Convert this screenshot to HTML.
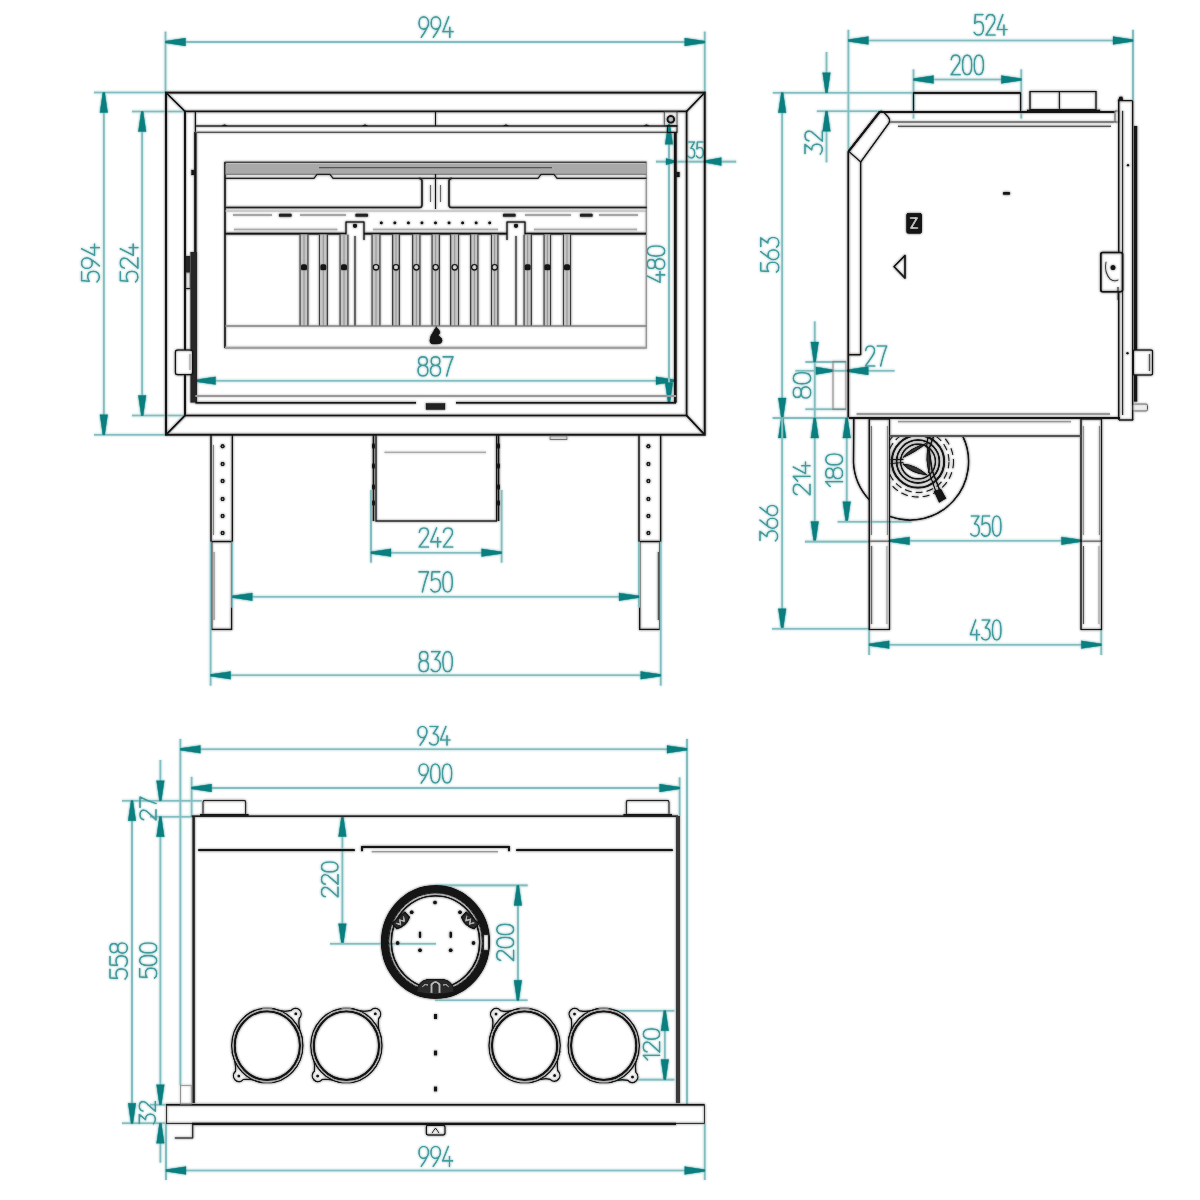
<!DOCTYPE html>
<html><head><meta charset="utf-8"><style>
html,body{margin:0;padding:0;background:#fff;}
svg{display:block;}
</style></head><body>
<svg width="1200" height="1200" viewBox="0 0 1200 1200">
<defs><filter id="soft" x="0" y="0" width="1200" height="1200" filterUnits="userSpaceOnUse" color-interpolation-filters="sRGB">
<feGaussianBlur in="SourceGraphic" stdDeviation="0.8" result="bl"/>
<feComponentTransfer in="bl" result="bl2"><feFuncR type="linear" slope="0.65" intercept="0.35"/><feFuncG type="linear" slope="0.65" intercept="0.35"/><feFuncB type="linear" slope="0.65" intercept="0.35"/></feComponentTransfer>
<feBlend in="SourceGraphic" in2="bl2" mode="darken"/></filter></defs>
<g filter="url(#soft)">
<rect width="1200" height="1200" fill="#fff"/>
<line x1="165.5" y1="31.5" x2="165.5" y2="92.5" stroke="#84bec0" stroke-width="2.1" />
<line x1="704.7" y1="31.5" x2="704.7" y2="92.5" stroke="#84bec0" stroke-width="2.1" />
<line x1="165.5" y1="42" x2="704.7" y2="42" stroke="#84bec0" stroke-width="2.1" />
<polygon points="165.50,41.00 165.50,43.00 185.50,45.90 185.50,38.10" fill="#0b7f80" stroke="#0b7f80" stroke-width="0.6" stroke-linejoin="round"/>
<polygon points="704.70,41.00 704.70,43.00 684.70,45.90 684.70,38.10" fill="#0b7f80" stroke="#0b7f80" stroke-width="0.6" stroke-linejoin="round"/>
<path d="M421.28,37.20 C423.57,34.16 425.66,30.91 427.00,27.66 C427.95,26.24 428.52,24.82 428.52,22.99 C428.52,19.34 426.43,16.90 423.76,16.90 C421.09,16.90 419.00,19.34 419.00,22.99 C419.00,26.64 421.09,29.08 423.76,29.08 C425.28,29.08 426.43,28.47 427.28,27.25 M433.37,37.20 C435.66,34.16 437.75,30.91 439.09,27.66 C440.04,26.24 440.61,24.82 440.61,22.99 C440.61,19.34 438.52,16.90 435.85,16.90 C433.18,16.90 431.09,19.34 431.09,22.99 C431.09,26.64 433.18,29.08 435.85,29.08 C437.37,29.08 438.52,28.47 439.37,27.25 M448.70,16.90 L442.89,31.72 L452.99,31.72 M449.84,27.25 L449.84,37.20" stroke="#449a9c" stroke-width="1.7" fill="none" stroke-linecap="round" stroke-linejoin="round"/>
<line x1="94" y1="92.5" x2="166" y2="92.5" stroke="#84bec0" stroke-width="2.1" />
<line x1="94" y1="434.7" x2="166" y2="434.7" stroke="#84bec0" stroke-width="2.1" />
<line x1="103.8" y1="92.5" x2="103.8" y2="434.7" stroke="#84bec0" stroke-width="2.1" />
<polygon points="102.80,92.50 104.80,92.50 107.70,112.50 99.90,112.50" fill="#0b7f80" stroke="#0b7f80" stroke-width="0.6" stroke-linejoin="round"/>
<polygon points="102.80,434.70 104.80,434.70 107.70,414.70 99.90,414.70" fill="#0b7f80" stroke="#0b7f80" stroke-width="0.6" stroke-linejoin="round"/>
<path d="M81.60,271.94 L81.60,280.63 L89.21,281.26 C88.15,279.78 87.71,278.30 87.71,276.60 C87.71,273.43 89.92,271.31 93.46,271.31 C97.00,271.31 99.30,273.64 99.30,277.03 C99.30,279.15 98.50,280.84 97.00,281.90 M99.30,265.90 C96.64,263.36 93.81,261.03 90.98,259.55 C89.74,258.49 88.50,257.85 86.91,257.85 C83.72,257.85 81.60,260.18 81.60,263.15 C81.60,266.12 83.72,268.45 86.91,268.45 C90.10,268.45 92.22,266.12 92.22,263.15 C92.22,261.46 91.69,260.18 90.63,259.23 M81.60,248.85 L94.52,255.31 L94.52,244.08 M90.63,247.58 L99.30,247.58" stroke="#449a9c" stroke-width="1.7" fill="none" stroke-linecap="round" stroke-linejoin="round"/>
<line x1="132" y1="111.5" x2="185" y2="111.5" stroke="#84bec0" stroke-width="2.1" />
<line x1="132" y1="415.5" x2="185" y2="415.5" stroke="#84bec0" stroke-width="2.1" />
<line x1="142.2" y1="111.5" x2="142.2" y2="415.5" stroke="#84bec0" stroke-width="2.1" />
<polygon points="141.20,111.50 143.20,111.50 146.10,131.50 138.30,131.50" fill="#0b7f80" stroke="#0b7f80" stroke-width="0.6" stroke-linejoin="round"/>
<polygon points="141.20,415.50 143.20,415.50 146.10,395.50 138.30,395.50" fill="#0b7f80" stroke="#0b7f80" stroke-width="0.6" stroke-linejoin="round"/>
<path d="M120.30,271.94 L120.30,280.63 L127.87,281.26 C126.81,279.78 126.37,278.30 126.37,276.60 C126.37,273.43 128.57,271.31 132.09,271.31 C135.61,271.31 137.90,273.64 137.90,277.03 C137.90,279.15 137.11,280.84 135.61,281.90 M124.26,268.02 C121.53,267.60 120.30,265.48 120.30,263.04 C120.30,260.18 121.88,258.07 124.52,258.07 C126.81,258.07 128.04,259.34 129.45,260.82 L137.90,268.23 L137.90,257.85 M120.30,248.85 L133.15,255.31 L133.15,244.08 M129.28,247.58 L137.90,247.58" stroke="#449a9c" stroke-width="1.7" fill="none" stroke-linecap="round" stroke-linejoin="round"/>
<line x1="195.5" y1="380.7" x2="676" y2="380.7" stroke="#84bec0" stroke-width="2.1" />
<polygon points="195.50,379.70 195.50,381.70 215.50,384.60 215.50,376.80" fill="#0b7f80" stroke="#0b7f80" stroke-width="0.6" stroke-linejoin="round"/>
<polygon points="676.00,379.70 676.00,381.70 656.00,384.60 656.00,376.80" fill="#0b7f80" stroke="#0b7f80" stroke-width="0.6" stroke-linejoin="round"/>
<path d="M422.94,365.44 C420.18,365.44 418.59,363.62 418.59,361.12 C418.59,358.53 420.47,356.80 422.94,356.80 C425.42,356.80 427.29,358.53 427.29,361.12 C427.29,363.62 425.71,365.44 422.94,365.44 C419.98,365.44 418.00,367.36 418.00,370.62 C418.00,373.98 420.18,376.00 422.94,376.00 C425.71,376.00 427.89,373.98 427.89,370.62 C427.89,367.36 425.91,365.44 422.94,365.44 M435.50,365.44 C432.73,365.44 431.15,363.62 431.15,361.12 C431.15,358.53 433.03,356.80 435.50,356.80 C437.97,356.80 439.85,358.53 439.85,361.12 C439.85,363.62 438.27,365.44 435.50,365.44 C432.53,365.44 430.56,367.36 430.56,370.62 C430.56,373.98 432.73,376.00 435.50,376.00 C438.27,376.00 440.44,373.98 440.44,370.62 C440.44,367.36 438.47,365.44 435.50,365.44 M443.11,356.80 L453.00,356.80 C450.63,361.98 448.45,368.70 446.67,376.00" stroke="#449a9c" stroke-width="1.7" fill="none" stroke-linecap="round" stroke-linejoin="round"/>
<line x1="669" y1="124.3" x2="669" y2="402.7" stroke="#84bec0" stroke-width="2.1" />
<polygon points="668.00,124.30 670.00,124.30 672.90,144.30 665.10,144.30" fill="#0b7f80" stroke="#0b7f80" stroke-width="0.6" stroke-linejoin="round"/>
<polygon points="668.00,402.70 670.00,402.70 672.90,382.70 665.10,382.70" fill="#0b7f80" stroke="#0b7f80" stroke-width="0.6" stroke-linejoin="round"/>
<path d="M647.30,276.10 L660.00,282.31 L660.00,271.53 M656.17,274.88 L664.70,274.88 M655.13,264.00 C655.13,266.85 653.48,268.47 651.21,268.47 C648.87,268.47 647.30,266.54 647.30,264.00 C647.30,261.46 648.87,259.53 651.21,259.53 C653.48,259.53 655.13,261.15 655.13,264.00 C655.13,267.05 656.87,269.08 659.83,269.08 C662.87,269.08 664.70,266.85 664.70,264.00 C664.70,261.15 662.87,258.92 659.83,258.92 C656.87,258.92 655.13,260.95 655.13,264.00 M647.30,251.08 C647.30,247.83 650.78,246.00 656.00,246.00 C661.22,246.00 664.70,247.83 664.70,251.08 C664.70,254.34 661.22,256.17 656.00,256.17 C650.78,256.17 647.30,254.34 647.30,251.08" stroke="#449a9c" stroke-width="1.7" fill="none" stroke-linecap="round" stroke-linejoin="round"/>
<line x1="656" y1="161.6" x2="736.3" y2="161.6" stroke="#84bec0" stroke-width="2.1" />
<polygon points="675.00,160.60 675.00,162.60 666.00,164.80 666.00,158.40" fill="#0b7f80" stroke="#0b7f80" stroke-width="0.6" stroke-linejoin="round"/>
<polygon points="704.80,160.60 704.80,162.60 721.30,165.60 721.30,157.60" fill="#0b7f80" stroke="#0b7f80" stroke-width="0.6" stroke-linejoin="round"/>
<path d="M688.54,142.00 L694.43,142.00 L690.95,148.24 C693.36,148.08 694.70,150.16 694.70,153.04 C694.70,156.08 693.09,158.00 691.21,158.00 C689.87,158.00 688.80,157.36 688.13,156.08 M702.80,142.00 L697.31,142.00 L696.91,148.88 C697.84,147.92 698.78,147.52 699.85,147.52 C701.86,147.52 703.20,149.52 703.20,152.72 C703.20,155.92 701.73,158.00 699.58,158.00 C698.24,158.00 697.17,157.28 696.50,155.92" stroke="#449a9c" stroke-width="1.7" fill="none" stroke-linecap="round" stroke-linejoin="round"/>
<rect x="166" y="92.6" width="538.70" height="342.10" rx="0" stroke="#151515" stroke-width="2.2" fill="none" />
<rect x="185" y="111.4" width="501.60" height="304.10" rx="0" stroke="#151515" stroke-width="2.0" fill="none" />
<line x1="166" y1="92.6" x2="185" y2="111.4" stroke="#151515" stroke-width="2.0" />
<line x1="704.7" y1="92.6" x2="686.6" y2="111.4" stroke="#151515" stroke-width="2.0" />
<line x1="166" y1="434.7" x2="185" y2="415.5" stroke="#151515" stroke-width="2.0" />
<line x1="704.7" y1="434.7" x2="686.6" y2="415.5" stroke="#151515" stroke-width="2.0" />
<line x1="195.3" y1="111.4" x2="195.3" y2="132" stroke="#151515" stroke-width="1.4" />
<line x1="195.4" y1="132" x2="195.4" y2="252" stroke="#151515" stroke-width="2.6" />
<rect x="190.3" y="252" width="6.9" height="150.7" fill="#262626"/>
<rect x="186" y="272.7" width="4" height="16" fill="#fff" stroke="#222" stroke-width="0.8"/>
<circle cx="188" cy="262" r="1.3" fill="#fff"/><circle cx="188" cy="268" r="1.3" fill="#fff"/>
<line x1="186" y1="288.7" x2="190.3" y2="288.7" stroke="#151515" stroke-width="1.2" />
<rect x="186" y="256" width="4.3" height="16" fill="#262626"/>
<line x1="675.3" y1="132" x2="675.3" y2="402.7" stroke="#151515" stroke-width="3.0" />
<line x1="195.3" y1="126" x2="677" y2="126" stroke="#151515" stroke-width="1.6" />
<line x1="195.3" y1="132.2" x2="677" y2="132.2" stroke="#555" stroke-width="1.5" />
<line x1="435.5" y1="111.4" x2="435.5" y2="126" stroke="#151515" stroke-width="1.3" />
<path d="M221.5,126 Q224.5,122.3 227.5,126 Z" fill="#151515"/>
<path d="M362,126 Q365,122.3 368,126 Z" fill="#151515"/>
<path d="M503,126 Q506,122.3 509,126 Z" fill="#151515"/>
<path d="M643.5,126 Q646.5,122.3 649.5,126 Z" fill="#151515"/>
<rect x="664.2" y="111.5" width="12.80" height="14.30" rx="0" stroke="#333" stroke-width="1.0" fill="none" />
<circle cx="670.8" cy="119.3" r="3.4" stroke="#151515" stroke-width="2.0" fill="#bbb"/>
<rect x="667.3" y="125.8" width="9.70" height="6.70" rx="0" stroke="#151515" stroke-width="1.2" fill="none" />
<rect x="191.5" y="170" width="3.00" height="5.00" rx="0" stroke="#151515" stroke-width="0.5" fill="#151515" />
<rect x="676.5" y="172" width="3.00" height="5.00" rx="0" stroke="#151515" stroke-width="0.5" fill="#151515" />
<rect x="175.3" y="350" width="17.40" height="24.70" rx="2.5" stroke="#151515" stroke-width="1.4" fill="#fff" />
<line x1="190" y1="354" x2="190" y2="370" stroke="#777" stroke-width="1.0" />
<line x1="195.3" y1="396" x2="676" y2="396" stroke="#999" stroke-width="1.8" />
<line x1="195.3" y1="402.8" x2="416" y2="402.8" stroke="#151515" stroke-width="2.0" />
<line x1="456" y1="402.8" x2="676" y2="402.8" stroke="#151515" stroke-width="2.0" />
<rect x="426" y="403.5" width="19.00" height="6.00" rx="0" stroke="#151515" stroke-width="0.6" fill="#222" />
<rect x="225" y="162" width="421.20" height="186.00" rx="0" stroke="#8c8c8c" stroke-width="1.4" fill="none" />
<line x1="225" y1="162" x2="225" y2="348" stroke="#151515" stroke-width="1.6" />
<rect x="225.5" y="164" width="420.5" height="10" fill="#a9a9a9"/>
<line x1="225" y1="162.5" x2="646.2" y2="162.5" stroke="#444" stroke-width="1.4" />
<line x1="319" y1="167.6" x2="552" y2="167.6" stroke="#555" stroke-width="1.3" />
<line x1="225" y1="174.3" x2="646.2" y2="174.3" stroke="#666" stroke-width="1.0" />
<path d="M225,178.3 L314,178.3 L317,174.5 L330,174.5 L333,178.3 L538,178.3 L541,174.5 L554,174.5 L557,178.3 L646,178.3" stroke="#222" stroke-width="1.4" fill="none" stroke-linejoin="round" stroke-linecap="round" />
<path d="M225.5,207.5 L419.5,207.5 Q422,207.5 422,205 L422,181 Q422,178.5 419.5,178.5" stroke="#222" stroke-width="1.8" fill="none" stroke-linejoin="round" stroke-linecap="round" />
<path d="M646,207.5 L451.5,207.5 Q449,207.5 449,205 L449,181 Q449,178.5 451.5,178.5" stroke="#222" stroke-width="1.8" fill="none" stroke-linejoin="round" stroke-linecap="round" />
<line x1="435.5" y1="174" x2="435.5" y2="209" stroke="#151515" stroke-width="1.4" />
<line x1="430.5" y1="185" x2="430.5" y2="202" stroke="#666" stroke-width="1.3" />
<line x1="440.5" y1="185" x2="440.5" y2="202" stroke="#666" stroke-width="1.3" />
<line x1="225" y1="211" x2="646.2" y2="211" stroke="#999" stroke-width="1.2" />
<line x1="233" y1="215" x2="272" y2="215" stroke="#888" stroke-width="1.6" />
<line x1="300" y1="215" x2="346" y2="215" stroke="#888" stroke-width="1.6" />
<line x1="525" y1="215" x2="571" y2="215" stroke="#888" stroke-width="1.6" />
<line x1="599" y1="215" x2="638" y2="215" stroke="#888" stroke-width="1.6" />
<rect x="279" y="213.8" width="12.50" height="3.00" rx="0.8" stroke="#222" stroke-width="0.5" fill="#222" />
<rect x="355.5" y="213.8" width="12.50" height="3.00" rx="0.8" stroke="#222" stroke-width="0.5" fill="#222" />
<rect x="503" y="213.8" width="12.50" height="3.00" rx="0.8" stroke="#222" stroke-width="0.5" fill="#222" />
<rect x="580" y="213.8" width="12.50" height="3.00" rx="0.8" stroke="#222" stroke-width="0.5" fill="#222" />
<circle cx="381.30" cy="222.8" r="1.6" fill="#151515"/>
<circle cx="394.85" cy="222.8" r="1.6" fill="#151515"/>
<circle cx="408.40" cy="222.8" r="1.6" fill="#151515"/>
<circle cx="421.95" cy="222.8" r="1.6" fill="#151515"/>
<circle cx="435.50" cy="222.8" r="1.6" fill="#151515"/>
<circle cx="449.05" cy="222.8" r="1.6" fill="#151515"/>
<circle cx="462.60" cy="222.8" r="1.6" fill="#151515"/>
<circle cx="476.15" cy="222.8" r="1.6" fill="#151515"/>
<circle cx="489.70" cy="222.8" r="1.6" fill="#151515"/>
<line x1="234" y1="229.4" x2="337.5" y2="229.4" stroke="#a9a9a9" stroke-width="2.0" />
<line x1="373" y1="229.4" x2="498" y2="229.4" stroke="#a9a9a9" stroke-width="2.0" />
<line x1="534" y1="229.4" x2="637" y2="229.4" stroke="#a9a9a9" stroke-width="2.0" />
<line x1="225" y1="233.6" x2="346" y2="233.6" stroke="#151515" stroke-width="2.4" />
<line x1="364" y1="233.6" x2="507" y2="233.6" stroke="#151515" stroke-width="2.4" />
<line x1="525" y1="233.6" x2="646" y2="233.6" stroke="#151515" stroke-width="2.4" />
<path d="M346,239.5 L346,222 L364,222 L364,239.5" stroke="#151515" stroke-width="1.5" fill="none" stroke-linejoin="round" stroke-linecap="round" />
<circle cx="355" cy="225.8" r="2.2" fill="#151515"/>
<path d="M507,239.5 L507,222 L525,222 L525,239.5" stroke="#151515" stroke-width="1.5" fill="none" stroke-linejoin="round" stroke-linecap="round" />
<circle cx="516" cy="225.8" r="2.2" fill="#151515"/>
<rect x="300" y="234.5" width="8.0" height="91.5" fill="#c4c4c4"/>
<line x1="300" y1="234.5" x2="300" y2="326" stroke="#222" stroke-width="1.1" />
<line x1="308" y1="234.5" x2="308" y2="326" stroke="#222" stroke-width="1.1" />
<line x1="304.0" y1="234.5" x2="304.0" y2="326" stroke="#888" stroke-width="0.8" />
<rect x="301.0" y="264.3" width="6" height="6" fill="#151515" rx="1.6"/>
<rect x="319.3" y="234.5" width="8.0" height="91.5" fill="#c4c4c4"/>
<line x1="319.3" y1="234.5" x2="319.3" y2="326" stroke="#222" stroke-width="1.1" />
<line x1="327.3" y1="234.5" x2="327.3" y2="326" stroke="#222" stroke-width="1.1" />
<line x1="323.3" y1="234.5" x2="323.3" y2="326" stroke="#888" stroke-width="0.8" />
<rect x="320.3" y="264.3" width="6" height="6" fill="#151515" rx="1.6"/>
<rect x="340" y="234.5" width="8.0" height="91.5" fill="#c4c4c4"/>
<line x1="340" y1="234.5" x2="340" y2="326" stroke="#222" stroke-width="1.1" />
<line x1="348" y1="234.5" x2="348" y2="326" stroke="#222" stroke-width="1.1" />
<line x1="344.0" y1="234.5" x2="344.0" y2="326" stroke="#888" stroke-width="0.8" />
<rect x="341.0" y="264.3" width="6" height="6" fill="#151515" rx="1.6"/>
<rect x="372" y="234.5" width="8.0" height="91.5" fill="#c4c4c4"/>
<line x1="372" y1="234.5" x2="372" y2="326" stroke="#222" stroke-width="1.1" />
<line x1="380" y1="234.5" x2="380" y2="326" stroke="#222" stroke-width="1.1" />
<line x1="376.0" y1="234.5" x2="376.0" y2="326" stroke="#888" stroke-width="0.8" />
<circle cx="376.0" cy="267.3" r="2.7" fill="#fff" stroke="#151515" stroke-width="1.4"/>
<rect x="392.7" y="234.5" width="6.6" height="91.5" fill="#c4c4c4"/>
<line x1="392.7" y1="234.5" x2="392.7" y2="326" stroke="#222" stroke-width="1.1" />
<line x1="399.3" y1="234.5" x2="399.3" y2="326" stroke="#222" stroke-width="1.1" />
<line x1="396.0" y1="234.5" x2="396.0" y2="326" stroke="#888" stroke-width="0.8" />
<circle cx="396.0" cy="267.3" r="2.7" fill="#fff" stroke="#151515" stroke-width="1.4"/>
<rect x="412.7" y="234.5" width="7.3" height="91.5" fill="#c4c4c4"/>
<line x1="412.7" y1="234.5" x2="412.7" y2="326" stroke="#222" stroke-width="1.1" />
<line x1="420" y1="234.5" x2="420" y2="326" stroke="#222" stroke-width="1.1" />
<line x1="416.35" y1="234.5" x2="416.35" y2="326" stroke="#888" stroke-width="0.8" />
<circle cx="416.35" cy="267.3" r="2.7" fill="#fff" stroke="#151515" stroke-width="1.4"/>
<rect x="432" y="234.5" width="7.3" height="91.5" fill="#c4c4c4"/>
<line x1="432" y1="234.5" x2="432" y2="326" stroke="#222" stroke-width="1.1" />
<line x1="439.3" y1="234.5" x2="439.3" y2="326" stroke="#222" stroke-width="1.1" />
<line x1="435.65" y1="234.5" x2="435.65" y2="326" stroke="#888" stroke-width="0.8" />
<circle cx="435.65" cy="267.3" r="2.7" fill="#fff" stroke="#151515" stroke-width="1.4"/>
<rect x="450.7" y="234.5" width="8.0" height="91.5" fill="#c4c4c4"/>
<line x1="450.7" y1="234.5" x2="450.7" y2="326" stroke="#222" stroke-width="1.1" />
<line x1="458.7" y1="234.5" x2="458.7" y2="326" stroke="#222" stroke-width="1.1" />
<line x1="454.7" y1="234.5" x2="454.7" y2="326" stroke="#888" stroke-width="0.8" />
<circle cx="454.7" cy="267.3" r="2.7" fill="#fff" stroke="#151515" stroke-width="1.4"/>
<rect x="470.7" y="234.5" width="7.3" height="91.5" fill="#c4c4c4"/>
<line x1="470.7" y1="234.5" x2="470.7" y2="326" stroke="#222" stroke-width="1.1" />
<line x1="478" y1="234.5" x2="478" y2="326" stroke="#222" stroke-width="1.1" />
<line x1="474.35" y1="234.5" x2="474.35" y2="326" stroke="#888" stroke-width="0.8" />
<circle cx="474.35" cy="267.3" r="2.7" fill="#fff" stroke="#151515" stroke-width="1.4"/>
<rect x="491.3" y="234.5" width="6.7" height="91.5" fill="#c4c4c4"/>
<line x1="491.3" y1="234.5" x2="491.3" y2="326" stroke="#222" stroke-width="1.1" />
<line x1="498" y1="234.5" x2="498" y2="326" stroke="#222" stroke-width="1.1" />
<line x1="494.65" y1="234.5" x2="494.65" y2="326" stroke="#888" stroke-width="0.8" />
<circle cx="494.65" cy="267.3" r="2.7" fill="#fff" stroke="#151515" stroke-width="1.4"/>
<rect x="524" y="234.5" width="7.3" height="91.5" fill="#c4c4c4"/>
<line x1="524" y1="234.5" x2="524" y2="326" stroke="#222" stroke-width="1.1" />
<line x1="531.3" y1="234.5" x2="531.3" y2="326" stroke="#222" stroke-width="1.1" />
<line x1="527.65" y1="234.5" x2="527.65" y2="326" stroke="#888" stroke-width="0.8" />
<rect x="524.65" y="264.3" width="6" height="6" fill="#151515" rx="1.6"/>
<rect x="544" y="234.5" width="6.7" height="91.5" fill="#c4c4c4"/>
<line x1="544" y1="234.5" x2="544" y2="326" stroke="#222" stroke-width="1.1" />
<line x1="550.7" y1="234.5" x2="550.7" y2="326" stroke="#222" stroke-width="1.1" />
<line x1="547.35" y1="234.5" x2="547.35" y2="326" stroke="#888" stroke-width="0.8" />
<rect x="544.35" y="264.3" width="6" height="6" fill="#151515" rx="1.6"/>
<rect x="563.3" y="234.5" width="7.4" height="91.5" fill="#c4c4c4"/>
<line x1="563.3" y1="234.5" x2="563.3" y2="326" stroke="#222" stroke-width="1.1" />
<line x1="570.7" y1="234.5" x2="570.7" y2="326" stroke="#222" stroke-width="1.1" />
<line x1="567.0" y1="234.5" x2="567.0" y2="326" stroke="#888" stroke-width="0.8" />
<rect x="564.0" y="264.3" width="6" height="6" fill="#151515" rx="1.6"/>
<line x1="355" y1="236" x2="355" y2="326" stroke="#151515" stroke-width="1.3" />
<line x1="516" y1="236" x2="516" y2="326" stroke="#151515" stroke-width="1.3" />
<line x1="225" y1="326" x2="646.2" y2="326" stroke="#777" stroke-width="1.3" />
<line x1="225" y1="347.6" x2="646.2" y2="347.6" stroke="#a0a0a0" stroke-width="2.2" />
<path d="M436.2,327 Q439.5,329.5 440,332.5 Q438.5,334.8 438.8,336 Q442.2,337.6 442.2,340.8 Q441.6,344 437.5,344 L432.5,344 Q429.6,343.6 429.8,340.2 Q430.4,335.2 433.6,331.2 Q434.8,328.6 436.2,327 Z" stroke="#151515" stroke-width="0.8" fill="#151515" stroke-linejoin="round" stroke-linecap="round" />
<rect x="211" y="435" width="21.30" height="106.60" rx="0" stroke="#151515" stroke-width="1.6" fill="#fff" />
<circle cx="222.6" cy="446.3" r="2.2" fill="#1a1a1a"/><circle cx="222.6" cy="446.3" r="0.6" fill="#fff"/>
<circle cx="222.6" cy="464" r="2.2" fill="#1a1a1a"/><circle cx="222.6" cy="464" r="0.6" fill="#fff"/>
<circle cx="222.6" cy="481" r="2.2" fill="#1a1a1a"/><circle cx="222.6" cy="481" r="0.6" fill="#fff"/>
<circle cx="222.6" cy="499" r="2.2" fill="#1a1a1a"/><circle cx="222.6" cy="499" r="0.6" fill="#fff"/>
<circle cx="222.6" cy="516" r="2.2" fill="#1a1a1a"/><circle cx="222.6" cy="516" r="0.6" fill="#fff"/>
<circle cx="222.6" cy="533" r="2.2" fill="#1a1a1a"/><circle cx="222.6" cy="533" r="0.6" fill="#fff"/>
<rect x="211.7" y="541.6" width="19.90" height="87.80" rx="0" stroke="#151515" stroke-width="1.6" fill="#fff" />
<rect x="639" y="435" width="21.70" height="106.60" rx="0" stroke="#151515" stroke-width="1.6" fill="#fff" />
<circle cx="648.4" cy="446.3" r="2.2" fill="#1a1a1a"/><circle cx="648.4" cy="446.3" r="0.6" fill="#fff"/>
<circle cx="648.4" cy="464" r="2.2" fill="#1a1a1a"/><circle cx="648.4" cy="464" r="0.6" fill="#fff"/>
<circle cx="648.4" cy="481" r="2.2" fill="#1a1a1a"/><circle cx="648.4" cy="481" r="0.6" fill="#fff"/>
<circle cx="648.4" cy="499" r="2.2" fill="#1a1a1a"/><circle cx="648.4" cy="499" r="0.6" fill="#fff"/>
<circle cx="648.4" cy="516" r="2.2" fill="#1a1a1a"/><circle cx="648.4" cy="516" r="0.6" fill="#fff"/>
<circle cx="648.4" cy="533" r="2.2" fill="#1a1a1a"/><circle cx="648.4" cy="533" r="0.6" fill="#fff"/>
<rect x="639.7" y="541.6" width="20.30" height="87.80" rx="0" stroke="#151515" stroke-width="1.6" fill="#fff" />
<line x1="213.6" y1="445" x2="213.6" y2="535" stroke="#777" stroke-width="1.0" />
<line x1="214" y1="552" x2="214" y2="620" stroke="#777" stroke-width="1.2" />
<line x1="658.3" y1="552" x2="658.3" y2="620" stroke="#555" stroke-width="1.4" />
<rect x="376" y="435" width="120.50" height="86.00" rx="0" stroke="#151515" stroke-width="1.5" fill="#fff" />
<line x1="384.4" y1="452.4" x2="486" y2="452.4" stroke="#aaa" stroke-width="1.6" />
<line x1="373.5" y1="435" x2="373.5" y2="521" stroke="#151515" stroke-width="2.0" />
<ellipse cx="373.5" cy="446" rx="1.6" ry="3" fill="#151515"/>
<ellipse cx="373.5" cy="466" rx="1.6" ry="3" fill="#151515"/>
<ellipse cx="373.5" cy="487" rx="1.6" ry="3" fill="#151515"/>
<ellipse cx="373.5" cy="503" rx="1.6" ry="3" fill="#151515"/>
<line x1="498.5" y1="435" x2="498.5" y2="521" stroke="#151515" stroke-width="2.0" />
<ellipse cx="498.5" cy="446" rx="1.6" ry="3" fill="#151515"/>
<ellipse cx="498.5" cy="466" rx="1.6" ry="3" fill="#151515"/>
<ellipse cx="498.5" cy="487" rx="1.6" ry="3" fill="#151515"/>
<ellipse cx="498.5" cy="503" rx="1.6" ry="3" fill="#151515"/>
<rect x="550" y="436" width="17.00" height="3.50" rx="0" stroke="#555" stroke-width="0.8" fill="#ddd" />
<line x1="371" y1="490" x2="371" y2="562.7" stroke="#84bec0" stroke-width="2.1" />
<line x1="501.6" y1="490" x2="501.6" y2="562.7" stroke="#84bec0" stroke-width="2.1" />
<line x1="371" y1="552.7" x2="501.6" y2="552.7" stroke="#84bec0" stroke-width="2.1" />
<polygon points="371.00,551.70 371.00,553.70 391.00,556.60 391.00,548.80" fill="#0b7f80" stroke="#0b7f80" stroke-width="0.6" stroke-linejoin="round"/>
<polygon points="501.60,551.70 501.60,553.70 481.60,556.60 481.60,548.80" fill="#0b7f80" stroke="#0b7f80" stroke-width="0.6" stroke-linejoin="round"/>
<path d="M419.38,532.27 C419.76,529.33 421.67,528.00 423.86,528.00 C426.43,528.00 428.33,529.71 428.33,532.56 C428.33,535.03 427.19,536.36 425.85,537.88 L419.19,547.00 L428.52,547.00 M436.61,528.00 L430.80,541.87 L440.90,541.87 M437.75,537.69 L437.75,547.00 M443.56,532.27 C443.94,529.33 445.85,528.00 448.04,528.00 C450.61,528.00 452.51,529.71 452.51,532.56 C452.51,535.03 451.37,536.36 450.03,537.88 L443.37,547.00 L452.70,547.00" stroke="#449a9c" stroke-width="1.7" fill="none" stroke-linecap="round" stroke-linejoin="round"/>
<line x1="232.3" y1="541.6" x2="232.3" y2="607.7" stroke="#84bec0" stroke-width="2.1" />
<line x1="639" y1="541.6" x2="639" y2="607.7" stroke="#84bec0" stroke-width="2.1" />
<line x1="232.3" y1="596.8" x2="639" y2="596.8" stroke="#84bec0" stroke-width="2.1" />
<polygon points="232.30,595.80 232.30,597.80 252.30,600.70 252.30,592.90" fill="#0b7f80" stroke="#0b7f80" stroke-width="0.6" stroke-linejoin="round"/>
<polygon points="639.00,595.80 639.00,597.80 619.00,600.70 619.00,592.90" fill="#0b7f80" stroke="#0b7f80" stroke-width="0.6" stroke-linejoin="round"/>
<path d="M419.00,571.80 L428.41,571.80 C426.15,577.25 424.08,584.32 422.39,592.00 M439.79,571.80 L432.08,571.80 L431.51,580.49 C432.83,579.27 434.14,578.77 435.65,578.77 C438.47,578.77 440.35,581.29 440.35,585.33 C440.35,589.37 438.28,592.00 435.27,592.00 C433.39,592.00 431.89,591.09 430.95,589.37 M447.60,571.80 C450.61,571.80 452.30,575.84 452.30,581.90 C452.30,587.96 450.61,592.00 447.60,592.00 C444.59,592.00 442.89,587.96 442.89,581.90 C442.89,575.84 444.59,571.80 447.60,571.80" stroke="#449a9c" stroke-width="1.7" fill="none" stroke-linecap="round" stroke-linejoin="round"/>
<line x1="210.6" y1="541.6" x2="210.6" y2="685.7" stroke="#84bec0" stroke-width="2.1" />
<line x1="660.7" y1="541.6" x2="660.7" y2="685.7" stroke="#84bec0" stroke-width="2.1" />
<line x1="210.6" y1="675.3" x2="660.7" y2="675.3" stroke="#84bec0" stroke-width="2.1" />
<polygon points="210.60,674.30 210.60,676.30 230.60,679.20 230.60,671.40" fill="#0b7f80" stroke="#0b7f80" stroke-width="0.6" stroke-linejoin="round"/>
<polygon points="660.70,674.30 660.70,676.30 640.70,679.20 640.70,671.40" fill="#0b7f80" stroke="#0b7f80" stroke-width="0.6" stroke-linejoin="round"/>
<path d="M423.70,660.70 C421.07,660.70 419.56,658.80 419.56,656.20 C419.56,653.50 421.35,651.70 423.70,651.70 C426.06,651.70 427.84,653.50 427.84,656.20 C427.84,658.80 426.34,660.70 423.70,660.70 C420.88,660.70 419.00,662.70 419.00,666.10 C419.00,669.60 421.07,671.70 423.70,671.70 C426.34,671.70 428.41,669.60 428.41,666.10 C428.41,662.70 426.53,660.70 423.70,660.70 M431.70,651.70 L439.98,651.70 L435.09,659.50 C438.47,659.30 440.35,661.90 440.35,665.50 C440.35,669.30 438.10,671.70 435.46,671.70 C433.58,671.70 432.08,670.90 431.13,669.30 M447.60,651.70 C450.61,651.70 452.30,655.70 452.30,661.70 C452.30,667.70 450.61,671.70 447.60,671.70 C444.59,671.70 442.89,667.70 442.89,661.70 C442.89,655.70 444.59,651.70 447.60,651.70" stroke="#449a9c" stroke-width="1.7" fill="none" stroke-linecap="round" stroke-linejoin="round"/>
<line x1="848.4" y1="29.7" x2="848.4" y2="152" stroke="#84bec0" stroke-width="2.1" />
<line x1="1133" y1="29.7" x2="1133" y2="100.7" stroke="#84bec0" stroke-width="2.1" />
<line x1="848.4" y1="40.5" x2="1133" y2="40.5" stroke="#84bec0" stroke-width="2.1" />
<polygon points="848.40,39.50 848.40,41.50 868.40,44.40 868.40,36.60" fill="#0b7f80" stroke="#0b7f80" stroke-width="0.6" stroke-linejoin="round"/>
<polygon points="1133.00,39.50 1133.00,41.50 1113.00,44.40 1113.00,36.60" fill="#0b7f80" stroke="#0b7f80" stroke-width="0.6" stroke-linejoin="round"/>
<path d="M982.83,14.60 L975.30,14.60 L974.75,23.37 C976.04,22.15 977.32,21.64 978.79,21.64 C981.54,21.64 983.38,24.19 983.38,28.27 C983.38,32.35 981.36,35.00 978.42,35.00 C976.59,35.00 975.12,34.08 974.20,32.35 M986.23,19.19 C986.59,16.03 988.43,14.60 990.54,14.60 C993.02,14.60 994.86,16.44 994.86,19.50 C994.86,22.15 993.76,23.58 992.47,25.21 L986.04,35.00 L995.04,35.00 M1002.84,14.60 L997.24,29.49 L1006.98,29.49 M1003.95,25.00 L1003.95,35.00" stroke="#449a9c" stroke-width="1.7" fill="none" stroke-linecap="round" stroke-linejoin="round"/>
<line x1="913.5" y1="69.3" x2="913.5" y2="118.7" stroke="#84bec0" stroke-width="2.1" />
<line x1="1021.3" y1="69.3" x2="1021.3" y2="118.7" stroke="#84bec0" stroke-width="2.1" />
<line x1="913.5" y1="79.5" x2="1021.3" y2="79.5" stroke="#84bec0" stroke-width="2.1" />
<polygon points="913.50,78.50 913.50,80.50 933.50,83.40 933.50,75.60" fill="#0b7f80" stroke="#0b7f80" stroke-width="0.6" stroke-linejoin="round"/>
<polygon points="1021.30,78.50 1021.30,80.50 1001.30,83.40 1001.30,75.60" fill="#0b7f80" stroke="#0b7f80" stroke-width="0.6" stroke-linejoin="round"/>
<path d="M951.27,59.59 C951.63,56.56 953.47,55.20 955.58,55.20 C958.06,55.20 959.90,56.96 959.90,59.88 C959.90,62.42 958.80,63.78 957.51,65.34 L951.08,74.70 L960.08,74.70 M967.15,55.20 C970.09,55.20 971.74,59.10 971.74,64.95 C971.74,70.80 970.09,74.70 967.15,74.70 C964.21,74.70 962.56,70.80 962.56,64.95 C962.56,59.10 964.21,55.20 967.15,55.20 M978.81,55.20 C981.75,55.20 983.40,59.10 983.40,64.95 C983.40,70.80 981.75,74.70 978.81,74.70 C975.87,74.70 974.22,70.80 974.22,64.95 C974.22,59.10 975.87,55.20 978.81,55.20" stroke="#449a9c" stroke-width="1.7" fill="none" stroke-linecap="round" stroke-linejoin="round"/>
<line x1="772.7" y1="92.7" x2="914" y2="92.7" stroke="#84bec0" stroke-width="2.1" />
<line x1="782.2" y1="92.7" x2="782.2" y2="418" stroke="#84bec0" stroke-width="2.1" />
<polygon points="781.20,92.70 783.20,92.70 786.10,112.70 778.30,112.70" fill="#0b7f80" stroke="#0b7f80" stroke-width="0.6" stroke-linejoin="round"/>
<polygon points="781.20,418.00 783.20,418.00 786.10,398.00 778.30,398.00" fill="#0b7f80" stroke="#0b7f80" stroke-width="0.6" stroke-linejoin="round"/>
<path d="M760.80,262.84 L760.80,270.83 L768.54,271.42 C767.46,270.05 767.01,268.69 767.01,267.13 C767.01,264.20 769.26,262.25 772.86,262.25 C776.46,262.25 778.80,264.40 778.80,267.52 C778.80,269.47 777.99,271.03 776.46,272.00 M760.80,251.63 L769.26,258.06 C770.52,259.04 771.78,259.62 773.40,259.62 C776.64,259.62 778.80,257.48 778.80,254.75 C778.80,252.02 776.64,249.88 773.40,249.88 C770.16,249.88 768.00,252.02 768.00,254.75 C768.00,256.31 768.54,257.48 769.62,258.36 M760.80,246.47 L760.80,237.89 L767.82,242.96 C767.64,239.45 769.98,237.50 773.22,237.50 C776.64,237.50 778.80,239.84 778.80,242.57 C778.80,244.52 778.08,246.08 776.64,247.05" stroke="#449a9c" stroke-width="1.7" fill="none" stroke-linecap="round" stroke-linejoin="round"/>
<line x1="816.7" y1="111.3" x2="882" y2="111.3" stroke="#84bec0" stroke-width="2.1" />
<line x1="826.5" y1="52" x2="826.5" y2="92.7" stroke="#84bec0" stroke-width="2.1" />
<polygon points="825.50,92.70 827.50,92.70 830.40,72.70 822.60,72.70" fill="#0b7f80" stroke="#0b7f80" stroke-width="0.6" stroke-linejoin="round"/>
<line x1="826.5" y1="111.3" x2="826.5" y2="162.5" stroke="#84bec0" stroke-width="2.1" />
<polygon points="825.50,111.30 827.50,111.30 830.40,131.30 822.60,131.30" fill="#0b7f80" stroke="#0b7f80" stroke-width="0.6" stroke-linejoin="round"/>
<path d="M805.00,153.48 L805.00,144.45 L811.75,149.78 C811.57,146.09 813.82,144.04 816.94,144.04 C820.22,144.04 822.30,146.50 822.30,149.37 C822.30,151.43 821.61,153.07 820.22,154.09 M808.89,140.85 C806.21,140.44 805.00,138.39 805.00,136.03 C805.00,133.26 806.56,131.21 809.15,131.21 C811.40,131.21 812.61,132.44 814.00,133.87 L822.30,141.06 L822.30,131.00" stroke="#449a9c" stroke-width="1.7" fill="none" stroke-linecap="round" stroke-linejoin="round"/>
<line x1="795.3" y1="370.7" x2="894.7" y2="370.7" stroke="#84bec0" stroke-width="2.1" />
<polygon points="833.00,369.70 833.00,371.70 815.00,374.70 815.00,366.70" fill="#0b7f80" stroke="#0b7f80" stroke-width="0.6" stroke-linejoin="round"/>
<polygon points="847.30,369.70 847.30,371.70 868.30,374.90 868.30,366.50" fill="#0b7f80" stroke="#0b7f80" stroke-width="0.6" stroke-linejoin="round"/>
<path d="M865.68,350.50 C866.05,347.40 867.94,346.00 870.11,346.00 C872.65,346.00 874.54,347.80 874.54,350.80 C874.54,353.40 873.41,354.80 872.09,356.40 L865.49,366.00 L874.73,366.00 M877.27,346.00 L886.70,346.00 C884.44,351.40 882.36,358.40 880.67,366.00" stroke="#449a9c" stroke-width="1.7" fill="none" stroke-linecap="round" stroke-linejoin="round"/>
<line x1="805.3" y1="362" x2="846" y2="362" stroke="#84bec0" stroke-width="2.1" />
<line x1="805.3" y1="409.3" x2="846" y2="409.3" stroke="#84bec0" stroke-width="2.1" />
<line x1="814.7" y1="321.3" x2="814.7" y2="418" stroke="#84bec0" stroke-width="2.1" />
<polygon points="813.70,362.00 815.70,362.00 818.60,342.00 810.80,342.00" fill="#0b7f80" stroke="#0b7f80" stroke-width="0.6" stroke-linejoin="round"/>
<path d="M801.13,392.43 C801.13,395.55 799.48,397.33 797.21,397.33 C794.87,397.33 793.30,395.21 793.30,392.43 C793.30,389.64 794.87,387.52 797.21,387.52 C799.48,387.52 801.13,389.31 801.13,392.43 C801.13,395.77 802.87,398.00 805.83,398.00 C808.87,398.00 810.70,395.55 810.70,392.43 C810.70,389.31 808.87,386.85 805.83,386.85 C802.87,386.85 801.13,389.08 801.13,392.43 M793.30,378.27 C793.30,374.71 796.78,372.70 802.00,372.70 C807.22,372.70 810.70,374.71 810.70,378.27 C810.70,381.84 807.22,383.85 802.00,383.85 C796.78,383.85 793.30,381.84 793.30,378.27" stroke="#449a9c" stroke-width="1.7" fill="none" stroke-linecap="round" stroke-linejoin="round"/>
<line x1="772.5" y1="418" x2="848.3" y2="418" stroke="#84bec0" stroke-width="2.1" />
<line x1="814.7" y1="418" x2="814.7" y2="541.6" stroke="#84bec0" stroke-width="2.1" />
<polygon points="813.70,418.00 815.70,418.00 818.60,438.00 810.80,438.00" fill="#0b7f80" stroke="#0b7f80" stroke-width="0.6" stroke-linejoin="round"/>
<polygon points="813.70,541.60 815.70,541.60 818.60,521.60 810.80,521.60" fill="#0b7f80" stroke="#0b7f80" stroke-width="0.6" stroke-linejoin="round"/>
<line x1="805" y1="541.6" x2="870" y2="541.6" stroke="#84bec0" stroke-width="2.1" />
<path d="M797.06,494.57 C794.47,494.14 793.30,491.99 793.30,489.51 C793.30,486.61 794.80,484.45 797.31,484.45 C799.48,484.45 800.65,485.75 801.98,487.25 L810.00,494.78 L810.00,484.24 M797.64,481.12 L793.30,476.38 L810.00,476.38 M793.30,467.02 L805.49,473.58 L805.49,462.18 M801.82,465.73 L810.00,465.73" stroke="#449a9c" stroke-width="1.7" fill="none" stroke-linecap="round" stroke-linejoin="round"/>
<line x1="846.7" y1="418" x2="846.7" y2="521.7" stroke="#84bec0" stroke-width="2.1" />
<polygon points="845.70,418.00 847.70,418.00 850.60,438.00 842.80,438.00" fill="#0b7f80" stroke="#0b7f80" stroke-width="0.6" stroke-linejoin="round"/>
<polygon points="845.70,521.70 847.70,521.70 850.60,501.70 842.80,501.70" fill="#0b7f80" stroke="#0b7f80" stroke-width="0.6" stroke-linejoin="round"/>
<line x1="837.5" y1="521.7" x2="911.7" y2="521.7" stroke="#84bec0" stroke-width="2.1" />
<path d="M830.14,486.48 L825.80,481.72 L842.50,481.72 M833.31,473.17 C833.31,476.20 831.73,477.93 829.56,477.93 C827.30,477.93 825.80,475.87 825.80,473.17 C825.80,470.46 827.30,468.40 829.56,468.40 C831.73,468.40 833.31,470.13 833.31,473.17 C833.31,476.41 834.99,478.58 837.82,478.58 C840.75,478.58 842.50,476.20 842.50,473.17 C842.50,470.13 840.75,467.75 837.82,467.75 C834.99,467.75 833.31,469.92 833.31,473.17 M825.80,459.41 C825.80,455.95 829.14,454.00 834.15,454.00 C839.16,454.00 842.50,455.95 842.50,459.41 C842.50,462.88 839.16,464.83 834.15,464.83 C829.14,464.83 825.80,462.88 825.80,459.41" stroke="#449a9c" stroke-width="1.7" fill="none" stroke-linecap="round" stroke-linejoin="round"/>
<polygon points="781.20,418.00 783.20,418.00 786.10,438.00 778.30,438.00" fill="#0b7f80" stroke="#0b7f80" stroke-width="0.6" stroke-linejoin="round"/>
<line x1="782.2" y1="418" x2="782.2" y2="628.7" stroke="#84bec0" stroke-width="2.1" />
<polygon points="781.20,628.70 783.20,628.70 786.10,608.70 778.30,608.70" fill="#0b7f80" stroke="#0b7f80" stroke-width="0.6" stroke-linejoin="round"/>
<line x1="772" y1="628.7" x2="870" y2="628.7" stroke="#84bec0" stroke-width="2.1" />
<path d="M760.00,540.20 L760.00,531.37 L766.86,536.59 C766.69,532.98 768.98,530.97 772.14,530.97 C775.49,530.97 777.60,533.38 777.60,536.19 C777.60,538.19 776.90,539.80 775.49,540.80 M760.00,520.04 L768.27,526.66 C769.50,527.66 770.74,528.26 772.32,528.26 C775.49,528.26 777.60,526.06 777.60,523.25 C777.60,520.44 775.49,518.24 772.32,518.24 C769.15,518.24 767.04,520.44 767.04,523.25 C767.04,524.85 767.57,526.06 768.62,526.96 M760.00,507.31 L768.27,513.92 C769.50,514.93 770.74,515.53 772.32,515.53 C775.49,515.53 777.60,513.32 777.60,510.51 C777.60,507.71 775.49,505.50 772.32,505.50 C769.15,505.50 767.04,507.71 767.04,510.51 C767.04,512.12 767.57,513.32 768.62,514.22" stroke="#449a9c" stroke-width="1.7" fill="none" stroke-linecap="round" stroke-linejoin="round"/>
<line x1="889.5" y1="540.8" x2="1081.5" y2="540.8" stroke="#84bec0" stroke-width="2.1" />
<polygon points="889.50,539.80 889.50,541.80 909.50,544.70 909.50,536.90" fill="#0b7f80" stroke="#0b7f80" stroke-width="0.6" stroke-linejoin="round"/>
<polygon points="1081.50,539.80 1081.50,541.80 1061.50,544.70 1061.50,536.90" fill="#0b7f80" stroke="#0b7f80" stroke-width="0.6" stroke-linejoin="round"/>
<path d="M971.38,516.00 L978.92,516.00 L974.47,523.88 C977.55,523.68 979.26,526.30 979.26,529.94 C979.26,533.78 977.21,536.20 974.81,536.20 C973.10,536.20 971.73,535.39 970.87,533.78 M989.62,516.00 L982.60,516.00 L982.08,524.69 C983.28,523.47 984.48,522.97 985.85,522.97 C988.42,522.97 990.13,525.49 990.13,529.53 C990.13,533.57 988.25,536.20 985.51,536.20 C983.80,536.20 982.43,535.29 981.57,533.57 M996.72,516.00 C999.46,516.00 1001.00,520.04 1001.00,526.10 C1001.00,532.16 999.46,536.20 996.72,536.20 C993.98,536.20 992.44,532.16 992.44,526.10 C992.44,520.04 993.98,516.00 996.72,516.00" stroke="#449a9c" stroke-width="1.7" fill="none" stroke-linecap="round" stroke-linejoin="round"/>
<line x1="869.2" y1="629.5" x2="869.2" y2="655" stroke="#84bec0" stroke-width="2.1" />
<line x1="1101.3" y1="629.5" x2="1101.3" y2="655" stroke="#84bec0" stroke-width="2.1" />
<line x1="869.2" y1="644.7" x2="1101.3" y2="644.7" stroke="#84bec0" stroke-width="2.1" />
<polygon points="869.20,643.70 869.20,645.70 889.20,648.60 889.20,640.80" fill="#0b7f80" stroke="#0b7f80" stroke-width="0.6" stroke-linejoin="round"/>
<polygon points="1101.30,643.70 1101.30,645.70 1081.30,648.60 1081.30,640.80" fill="#0b7f80" stroke="#0b7f80" stroke-width="0.6" stroke-linejoin="round"/>
<path d="M975.66,620.00 L970.44,634.60 L979.52,634.60 M976.69,630.20 L976.69,640.00 M982.26,620.00 L989.79,620.00 L985.34,627.80 C988.42,627.60 990.13,630.20 990.13,633.80 C990.13,637.60 988.08,640.00 985.68,640.00 C983.97,640.00 982.60,639.20 981.74,637.60 M996.72,620.00 C999.46,620.00 1001.00,624.00 1001.00,630.00 C1001.00,636.00 999.46,640.00 996.72,640.00 C993.98,640.00 992.44,636.00 992.44,630.00 C992.44,624.00 993.98,620.00 996.72,620.00" stroke="#449a9c" stroke-width="1.7" fill="none" stroke-linecap="round" stroke-linejoin="round"/>
<path d="M848.7,151.3 L879.5,111.8 Q882,110.5 884,112.5 L888.5,117.5 Q890.5,120 889,123 L860.7,162 Z" stroke="#151515" stroke-width="1.5" fill="#fff" stroke-linejoin="round" stroke-linecap="round" />
<line x1="848.7" y1="151.3" x2="880" y2="111.6" stroke="#151515" stroke-width="2.4" />
<line x1="880" y1="112" x2="1114.5" y2="112" stroke="#151515" stroke-width="2.2" />
<line x1="890" y1="122" x2="1114.5" y2="122" stroke="#555" stroke-width="1.4" />
<line x1="898" y1="126.3" x2="1111" y2="126.3" stroke="#555" stroke-width="1.4" />
<path d="M913.5,112 L913.5,93 L1020.5,93 L1020.5,112" stroke="#151515" stroke-width="1.4" fill="none" stroke-linejoin="round" stroke-linecap="round" />
<line x1="913.5" y1="92.8" x2="1020.5" y2="92.8" stroke="#151515" stroke-width="2.0" />
<rect x="1030" y="91.6" width="66.00" height="18.20" rx="0" stroke="#151515" stroke-width="1.5" fill="none" />
<line x1="1059.3" y1="91.6" x2="1059.3" y2="109.8" stroke="#151515" stroke-width="1.3" />
<line x1="1026.8" y1="110.4" x2="1100.4" y2="110.4" stroke="#151515" stroke-width="2.0" />
<rect x="1115" y="111" width="3.70" height="11.00" rx="0" stroke="#333" stroke-width="1.0" fill="none" />
<line x1="848.3" y1="151.3" x2="848.3" y2="417.5" stroke="#151515" stroke-width="2.0" />
<line x1="860.7" y1="162" x2="860.7" y2="355" stroke="#151515" stroke-width="1.6" />
<line x1="848.7" y1="354.7" x2="860.7" y2="354.7" stroke="#151515" stroke-width="1.8" />
<rect x="833" y="361.3" width="13.00" height="48.00" rx="0" stroke="#888" stroke-width="1.2" fill="none" />
<line x1="856.5" y1="414" x2="1110" y2="414" stroke="#777" stroke-width="1.6" />
<line x1="848.7" y1="417.9" x2="1120" y2="417.9" stroke="#151515" stroke-width="2.0" />
<line x1="1118.8" y1="100.7" x2="1118.8" y2="420" stroke="#151515" stroke-width="1.6" />
<line x1="1122.7" y1="110.7" x2="1122.7" y2="415" stroke="#151515" stroke-width="1.2" />
<line x1="1132.7" y1="100.7" x2="1132.7" y2="420" stroke="#151515" stroke-width="1.6" />
<line x1="1118.8" y1="100.7" x2="1132.7" y2="100.7" stroke="#151515" stroke-width="1.4" />
<line x1="1118.8" y1="420" x2="1133.3" y2="420" stroke="#151515" stroke-width="1.6" />
<line x1="1135.6" y1="126" x2="1135.6" y2="401.7" stroke="#151515" stroke-width="3.6" />
<path d="M1117.5,101 L1119.5,96.5 L1122.5,96.5 L1123.5,101 Z" fill="#151515"/>
<circle cx="1128" cy="165.3" r="1.3" fill="#151515"/>
<circle cx="1127.5" cy="353.3" r="1.3" fill="#151515"/>
<rect x="1100.8" y="252.5" width="21.70" height="39.20" rx="2" stroke="#151515" stroke-width="2.0" fill="#fff" />
<circle cx="1113" cy="267.5" r="2.6" fill="#151515"/>
<path d="M1106,262 Q1104,272 1110,279 Q1114,282 1118,280" stroke="#444" stroke-width="1.2" fill="none" stroke-linejoin="round" stroke-linecap="round" />
<rect x="1133.3" y="350" width="19.20" height="25.00" rx="1.5" stroke="#151515" stroke-width="1.6" fill="#fff" />
<line x1="1149.5" y1="354" x2="1149.5" y2="371" stroke="#555" stroke-width="1.6" />
<rect x="1133" y="404" width="14.50" height="7.00" rx="1.5" stroke="#555" stroke-width="1.0" fill="#eee" />
<line x1="1118" y1="287" x2="1118" y2="300" stroke="#151515" stroke-width="1.2" />
<rect x="906.7" y="213.3" width="14.80" height="20.00" rx="1.5" stroke="#151515" stroke-width="1.0" fill="#151515" />
<path d="M910.5,218 L917,218 L911,228 L917.5,228" stroke="#fff" stroke-width="1.6" fill="none" stroke-linejoin="round" stroke-linecap="round" />
<path d="M905,255.5 L894,266.7 L905,278 Z" stroke="#151515" stroke-width="1.8" fill="none" stroke-linejoin="round" stroke-linecap="round" />
<rect x="1003" y="192" width="7.00" height="2.80" rx="1" stroke="#151515" stroke-width="0.5" fill="#151515" />
<path d="M853.8,418.7 L853.5,462.8 A58.5,58.5 0 0 0 869,499.5" stroke="#151515" stroke-width="1.8" fill="none" stroke-linejoin="round" stroke-linecap="round" />
<path d="M890,516.5 A58.5,58.5 0 0 0 962.7,436" stroke="#151515" stroke-width="1.8" fill="none" stroke-linejoin="round" stroke-linecap="round" />
<clipPath id="fanclip"><rect x="890" y="437" width="120" height="100"/></clipPath>
<g clip-path="url(#fanclip)">
<circle cx="918" cy="461.5" r="26.2" stroke="#151515" stroke-width="2.3" fill="none"/>
<circle cx="918" cy="461.5" r="21.4" stroke="#151515" stroke-width="2.0" fill="none"/>
<circle cx="918" cy="461.5" r="17.4" stroke="#151515" stroke-width="1.7" fill="none"/>
<circle cx="918" cy="461.5" r="31" stroke="#222" stroke-width="1.3" fill="none" stroke-dasharray="7 4"/>
<circle cx="918" cy="461.5" r="35.5" stroke="#222" stroke-width="1.3" fill="none" stroke-dasharray="7 4"/>
</g>
<path d="M891,459.8 L903,459.2" stroke="#151515" stroke-width="1.4" fill="none" stroke-linejoin="round" stroke-linecap="round" />
<path d="M891,463.4 L903,462.6" stroke="#151515" stroke-width="1.4" fill="none" stroke-linejoin="round" stroke-linecap="round" />
<path d="M903,457.5 Q911,447.5 926,443.5 Q916,451.5 903,457.5 Z" fill="#333" stroke="#151515" stroke-width="1.1" stroke-linejoin="round"/>
<path d="M903,464 Q916,465 927,475 Q912,473.5 903,464 Z" fill="#333" stroke="#151515" stroke-width="1.1" stroke-linejoin="round"/>
<path d="M927.5,447 Q932,460 928.8,473 Q925.5,460 927.5,447 Z" fill="#333" stroke="#151515" stroke-width="1.0" stroke-linejoin="round"/>
<path d="M933.5,436.5 L929,449 L932,470 L940,491" stroke="#151515" stroke-width="1.8" fill="none" stroke-linejoin="round" stroke-linecap="round" />
<path d="M928,437 L926.5,447" stroke="#151515" stroke-width="1.6" fill="none" stroke-linejoin="round" stroke-linecap="round" />
<path d="M929,472 L936,492" stroke="#151515" stroke-width="1.4" fill="none" stroke-linejoin="round" stroke-linecap="round" />
<path d="M933.5,491 L941,488.5 L946.5,498.5 L939,503 Z" fill="#151515"/>
<path d="M869.2,540.8 L869.2,419 L889.5,419 L889.5,540.8" stroke="#151515" stroke-width="1.6" fill="none" stroke-linejoin="round" stroke-linecap="round" />
<line x1="869.2" y1="541.1" x2="889.5" y2="541.1" stroke="#333" stroke-width="1.1" />
<path d="M869.2,541 L869.2,629.5 L889.5,629.5 L889.5,541" stroke="#151515" stroke-width="1.6" fill="none" stroke-linejoin="round" stroke-linecap="round" />
<line x1="871.4000000000001" y1="426" x2="871.4000000000001" y2="535" stroke="#666" stroke-width="1.0" />
<line x1="887.3" y1="426" x2="887.3" y2="535" stroke="#666" stroke-width="1.0" />
<line x1="871.7" y1="546" x2="871.7" y2="624" stroke="#555" stroke-width="1.2" />
<line x1="887.0" y1="546" x2="887.0" y2="624" stroke="#777" stroke-width="1.0" />
<path d="M1081,540.8 L1081,419 L1101.5,419 L1101.5,540.8" stroke="#151515" stroke-width="1.6" fill="none" stroke-linejoin="round" stroke-linecap="round" />
<line x1="1081" y1="541.1" x2="1101.5" y2="541.1" stroke="#333" stroke-width="1.1" />
<path d="M1081,541 L1081,629.5 L1101.5,629.5 L1101.5,541" stroke="#151515" stroke-width="1.6" fill="none" stroke-linejoin="round" stroke-linecap="round" />
<line x1="1083.2" y1="426" x2="1083.2" y2="535" stroke="#666" stroke-width="1.0" />
<line x1="1099.3" y1="426" x2="1099.3" y2="535" stroke="#666" stroke-width="1.0" />
<line x1="1083.5" y1="546" x2="1083.5" y2="624" stroke="#555" stroke-width="1.2" />
<line x1="1099.0" y1="546" x2="1099.0" y2="624" stroke="#777" stroke-width="1.0" />
<line x1="889.5" y1="436" x2="1081" y2="436" stroke="#555" stroke-width="1.8" />
<line x1="898" y1="421.6" x2="1071" y2="421.6" stroke="#999" stroke-width="1.6" />
<line x1="180.4" y1="738.7" x2="180.4" y2="1085.3" stroke="#84bec0" stroke-width="2.1" />
<line x1="687" y1="738.7" x2="687" y2="1104" stroke="#84bec0" stroke-width="2.1" />
<line x1="180.4" y1="749.3" x2="687" y2="749.3" stroke="#84bec0" stroke-width="2.1" />
<polygon points="180.40,748.30 180.40,750.30 200.40,753.20 200.40,745.40" fill="#0b7f80" stroke="#0b7f80" stroke-width="0.6" stroke-linejoin="round"/>
<polygon points="687.00,748.30 687.00,750.30 667.00,753.20 667.00,745.40" fill="#0b7f80" stroke="#0b7f80" stroke-width="0.6" stroke-linejoin="round"/>
<path d="M420.15,745.00 C422.30,742.23 424.27,739.26 425.52,736.30 C426.42,735.01 426.95,733.72 426.95,732.05 C426.95,728.72 424.98,726.50 422.48,726.50 C419.97,726.50 418.00,728.72 418.00,732.05 C418.00,735.38 419.97,737.60 422.48,737.60 C423.91,737.60 424.98,737.04 425.79,735.93 M430.09,726.50 L437.97,726.50 L433.31,733.72 C436.54,733.53 438.33,735.93 438.33,739.26 C438.33,742.78 436.18,745.00 433.67,745.00 C431.88,745.00 430.45,744.26 429.55,742.78 M445.94,726.50 L440.48,740.00 L449.97,740.00 M447.01,735.93 L447.01,745.00" stroke="#449a9c" stroke-width="1.7" fill="none" stroke-linecap="round" stroke-linejoin="round"/>
<line x1="191.6" y1="776.7" x2="191.6" y2="816" stroke="#84bec0" stroke-width="2.1" />
<line x1="679.6" y1="777.3" x2="679.6" y2="816" stroke="#84bec0" stroke-width="2.1" />
<line x1="191.6" y1="788" x2="679.6" y2="788" stroke="#84bec0" stroke-width="2.1" />
<polygon points="191.60,787.00 191.60,789.00 211.60,791.90 211.60,784.10" fill="#0b7f80" stroke="#0b7f80" stroke-width="0.6" stroke-linejoin="round"/>
<polygon points="679.60,787.00 679.60,789.00 659.60,791.90 659.60,784.10" fill="#0b7f80" stroke="#0b7f80" stroke-width="0.6" stroke-linejoin="round"/>
<path d="M421.22,783.00 C423.43,780.15 425.47,777.11 426.76,774.07 C427.68,772.74 428.24,771.41 428.24,769.70 C428.24,766.28 426.21,764.00 423.62,764.00 C421.03,764.00 419.00,766.28 419.00,769.70 C419.00,773.12 421.03,775.40 423.62,775.40 C425.10,775.40 426.21,774.83 427.04,773.69 M435.35,764.00 C438.31,764.00 439.97,767.80 439.97,773.50 C439.97,779.20 438.31,783.00 435.35,783.00 C432.39,783.00 430.73,779.20 430.73,773.50 C430.73,767.80 432.39,764.00 435.35,764.00 M447.08,764.00 C450.04,764.00 451.70,767.80 451.70,773.50 C451.70,779.20 450.04,783.00 447.08,783.00 C444.13,783.00 442.46,779.20 442.46,773.50 C442.46,767.80 444.13,764.00 447.08,764.00" stroke="#449a9c" stroke-width="1.7" fill="none" stroke-linecap="round" stroke-linejoin="round"/>
<line x1="122" y1="800.7" x2="202" y2="800.7" stroke="#84bec0" stroke-width="2.1" />
<line x1="122" y1="1123.3" x2="166" y2="1123.3" stroke="#84bec0" stroke-width="2.1" />
<line x1="132" y1="800.7" x2="132" y2="1123.3" stroke="#84bec0" stroke-width="2.1" />
<polygon points="131.00,800.70 133.00,800.70 135.90,820.70 128.10,820.70" fill="#0b7f80" stroke="#0b7f80" stroke-width="0.6" stroke-linejoin="round"/>
<polygon points="131.00,1123.30 133.00,1123.30 135.90,1103.30 128.10,1103.30" fill="#0b7f80" stroke="#0b7f80" stroke-width="0.6" stroke-linejoin="round"/>
<path d="M110.00,969.44 L110.00,977.78 L117.44,978.39 C116.40,976.97 115.97,975.54 115.97,973.92 C115.97,970.86 118.13,968.83 121.59,968.83 C125.05,968.83 127.30,971.07 127.30,974.32 C127.30,976.36 126.52,977.98 125.05,979.00 M110.00,956.53 L110.00,964.86 L117.44,965.47 C116.40,964.05 115.97,962.63 115.97,961.00 C115.97,957.95 118.13,955.92 121.59,955.92 C125.05,955.92 127.30,958.15 127.30,961.41 C127.30,963.44 126.52,965.07 125.05,966.08 M117.78,948.08 C117.78,950.93 116.14,952.56 113.89,952.56 C111.56,952.56 110.00,950.63 110.00,948.08 C110.00,945.54 111.56,943.61 113.89,943.61 C116.14,943.61 117.78,945.24 117.78,948.08 C117.78,951.14 119.52,953.17 122.46,953.17 C125.48,953.17 127.30,950.93 127.30,948.08 C127.30,945.24 125.48,943.00 122.46,943.00 C119.52,943.00 117.78,945.03 117.78,948.08" stroke="#449a9c" stroke-width="1.7" fill="none" stroke-linecap="round" stroke-linejoin="round"/>
<line x1="150" y1="816.7" x2="193" y2="816.7" stroke="#84bec0" stroke-width="2.1" />
<line x1="150" y1="1104.7" x2="166" y2="1104.7" stroke="#84bec0" stroke-width="2.1" />
<line x1="160.4" y1="816.7" x2="160.4" y2="1104.7" stroke="#84bec0" stroke-width="2.1" />
<polygon points="159.40,816.70 161.40,816.70 164.30,836.70 156.50,836.70" fill="#0b7f80" stroke="#0b7f80" stroke-width="0.6" stroke-linejoin="round"/>
<polygon points="159.40,1104.70 161.40,1104.70 164.30,1084.70 156.50,1084.70" fill="#0b7f80" stroke="#0b7f80" stroke-width="0.6" stroke-linejoin="round"/>
<path d="M139.70,968.71 L139.70,976.81 L147.01,977.41 C145.99,976.02 145.56,974.64 145.56,973.06 C145.56,970.09 147.69,968.11 151.09,968.11 C154.49,968.11 156.70,970.29 156.70,973.45 C156.70,975.43 155.94,977.01 154.49,978.00 M139.70,960.50 C139.70,957.34 143.10,955.56 148.20,955.56 C153.30,955.56 156.70,957.34 156.70,960.50 C156.70,963.66 153.30,965.44 148.20,965.44 C143.10,965.44 139.70,963.66 139.70,960.50 M139.70,947.94 C139.70,944.78 143.10,943.00 148.20,943.00 C153.30,943.00 156.70,944.78 156.70,947.94 C156.70,951.11 153.30,952.89 148.20,952.89 C143.10,952.89 139.70,951.11 139.70,947.94" stroke="#449a9c" stroke-width="1.7" fill="none" stroke-linecap="round" stroke-linejoin="round"/>
<line x1="160.4" y1="760" x2="160.4" y2="800.7" stroke="#84bec0" stroke-width="2.1" />
<polygon points="159.40,800.70 161.40,800.70 164.30,780.70 156.50,780.70" fill="#0b7f80" stroke="#0b7f80" stroke-width="0.6" stroke-linejoin="round"/>
<path d="M143.60,819.59 C141.12,819.19 140.00,817.16 140.00,814.83 C140.00,812.10 141.44,810.07 143.84,810.07 C145.92,810.07 147.04,811.29 148.32,812.70 L156.00,819.80 L156.00,809.87 M140.00,807.13 L140.00,797.00 C144.32,799.43 149.92,801.66 156.00,803.48" stroke="#449a9c" stroke-width="1.7" fill="none" stroke-linecap="round" stroke-linejoin="round"/>
<line x1="160.4" y1="1123.3" x2="160.4" y2="1162.7" stroke="#84bec0" stroke-width="2.1" />
<polygon points="159.40,1123.30 161.40,1123.30 164.30,1143.30 156.50,1143.30" fill="#0b7f80" stroke="#0b7f80" stroke-width="0.6" stroke-linejoin="round"/>
<path d="M139.30,1123.21 L139.30,1114.48 L145.54,1119.64 C145.38,1116.07 147.46,1114.09 150.34,1114.09 C153.38,1114.09 155.30,1116.47 155.30,1119.24 C155.30,1121.22 154.66,1122.81 153.38,1123.80 M142.90,1111.02 C140.42,1110.62 139.30,1108.64 139.30,1106.36 C139.30,1103.68 140.74,1101.70 143.14,1101.70 C145.22,1101.70 146.34,1102.89 147.62,1104.28 L155.30,1111.21 L155.30,1101.50" stroke="#449a9c" stroke-width="1.7" fill="none" stroke-linecap="round" stroke-linejoin="round"/>
<line x1="342.4" y1="816.5" x2="342.4" y2="943.7" stroke="#84bec0" stroke-width="2.1" />
<polygon points="341.40,816.50 343.40,816.50 346.30,836.50 338.50,836.50" fill="#0b7f80" stroke="#0b7f80" stroke-width="0.6" stroke-linejoin="round"/>
<polygon points="341.40,943.70 343.40,943.70 346.30,923.70 338.50,923.70" fill="#0b7f80" stroke="#0b7f80" stroke-width="0.6" stroke-linejoin="round"/>
<line x1="330" y1="943.7" x2="436" y2="943.7" stroke="#84bec0" stroke-width="2.1" />
<path d="M325.21,896.60 C322.65,896.21 321.50,894.23 321.50,891.96 C321.50,889.29 322.99,887.31 325.46,887.31 C327.61,887.31 328.76,888.50 330.08,889.88 L338.00,896.80 L338.00,887.11 M325.21,884.05 C322.65,883.65 321.50,881.68 321.50,879.40 C321.50,876.73 322.99,874.75 325.46,874.75 C327.61,874.75 328.76,875.94 330.08,877.32 L338.00,884.25 L338.00,874.56 M321.50,866.94 C321.50,863.78 324.80,862.00 329.75,862.00 C334.70,862.00 338.00,863.78 338.00,866.94 C338.00,870.11 334.70,871.89 329.75,871.89 C324.80,871.89 321.50,870.11 321.50,866.94" stroke="#449a9c" stroke-width="1.7" fill="none" stroke-linecap="round" stroke-linejoin="round"/>
<line x1="435" y1="885.4" x2="527.7" y2="885.4" stroke="#84bec0" stroke-width="2.1" />
<line x1="435" y1="1000.3" x2="527.7" y2="1000.3" stroke="#84bec0" stroke-width="2.1" />
<line x1="517.9" y1="885.4" x2="517.9" y2="1000.3" stroke="#84bec0" stroke-width="2.1" />
<polygon points="516.90,885.40 518.90,885.40 521.80,905.40 514.00,905.40" fill="#0b7f80" stroke="#0b7f80" stroke-width="0.6" stroke-linejoin="round"/>
<polygon points="516.90,1000.30 518.90,1000.30 521.80,980.30 514.00,980.30" fill="#0b7f80" stroke="#0b7f80" stroke-width="0.6" stroke-linejoin="round"/>
<path d="M500.58,960.29 C497.98,959.88 496.80,957.83 496.80,955.47 C496.80,952.70 498.31,950.65 500.83,950.65 C503.02,950.65 504.19,951.88 505.54,953.32 L513.60,960.49 L513.60,950.45 M496.80,942.55 C496.80,939.27 500.16,937.42 505.20,937.42 C510.24,937.42 513.60,939.27 513.60,942.55 C513.60,945.83 510.24,947.68 505.20,947.68 C500.16,947.68 496.80,945.83 496.80,942.55 M496.80,929.53 C496.80,926.25 500.16,924.40 505.20,924.40 C510.24,924.40 513.60,926.25 513.60,929.53 C513.60,932.81 510.24,934.65 505.20,934.65 C500.16,934.65 496.80,932.81 496.80,929.53" stroke="#449a9c" stroke-width="1.7" fill="none" stroke-linecap="round" stroke-linejoin="round"/>
<line x1="604" y1="1010.8" x2="674.6" y2="1010.8" stroke="#84bec0" stroke-width="2.1" />
<line x1="604" y1="1079.6" x2="674.6" y2="1079.6" stroke="#84bec0" stroke-width="2.1" />
<line x1="664.8" y1="1010.8" x2="664.8" y2="1079.6" stroke="#84bec0" stroke-width="2.1" />
<polygon points="663.80,1010.80 665.80,1010.80 668.70,1030.80 660.90,1030.80" fill="#0b7f80" stroke="#0b7f80" stroke-width="0.6" stroke-linejoin="round"/>
<polygon points="663.80,1079.60 665.80,1079.60 668.70,1059.60 660.90,1059.60" fill="#0b7f80" stroke="#0b7f80" stroke-width="0.6" stroke-linejoin="round"/>
<path d="M647.54,1059.79 L643.30,1055.25 L659.60,1055.25 M646.97,1051.84 C644.44,1051.43 643.30,1049.36 643.30,1046.98 C643.30,1044.19 644.77,1042.13 647.21,1042.13 C649.33,1042.13 650.47,1043.37 651.78,1044.81 L659.60,1052.05 L659.60,1041.92 M643.30,1033.97 C643.30,1030.66 646.56,1028.80 651.45,1028.80 C656.34,1028.80 659.60,1030.66 659.60,1033.97 C659.60,1037.27 656.34,1039.13 651.45,1039.13 C646.56,1039.13 643.30,1037.27 643.30,1033.97" stroke="#449a9c" stroke-width="1.7" fill="none" stroke-linecap="round" stroke-linejoin="round"/>
<line x1="166" y1="1123.3" x2="166" y2="1180" stroke="#84bec0" stroke-width="2.1" />
<line x1="704.7" y1="1123.3" x2="704.7" y2="1180" stroke="#84bec0" stroke-width="2.1" />
<line x1="166" y1="1170.5" x2="704.7" y2="1170.5" stroke="#84bec0" stroke-width="2.1" />
<polygon points="166.00,1169.50 166.00,1171.50 186.00,1174.40 186.00,1166.60" fill="#0b7f80" stroke="#0b7f80" stroke-width="0.6" stroke-linejoin="round"/>
<polygon points="704.70,1169.50 704.70,1171.50 684.70,1174.40 684.70,1166.60" fill="#0b7f80" stroke="#0b7f80" stroke-width="0.6" stroke-linejoin="round"/>
<path d="M421.26,1166.30 C423.52,1163.33 425.58,1160.16 426.90,1156.99 C427.84,1155.61 428.41,1154.22 428.41,1152.44 C428.41,1148.88 426.34,1146.50 423.70,1146.50 C421.07,1146.50 419.00,1148.88 419.00,1152.44 C419.00,1156.00 421.07,1158.38 423.70,1158.38 C425.21,1158.38 426.34,1157.79 427.18,1156.60 M433.20,1166.30 C435.46,1163.33 437.53,1160.16 438.85,1156.99 C439.79,1155.61 440.35,1154.22 440.35,1152.44 C440.35,1148.88 438.28,1146.50 435.65,1146.50 C433.02,1146.50 430.95,1148.88 430.95,1152.44 C430.95,1156.00 433.02,1158.38 435.65,1158.38 C437.16,1158.38 438.28,1157.79 439.13,1156.60 M448.35,1146.50 L442.61,1160.95 L452.58,1160.95 M449.48,1156.60 L449.48,1166.30" stroke="#449a9c" stroke-width="1.7" fill="none" stroke-linecap="round" stroke-linejoin="round"/>
<path d="M203,814.7 L203,802 Q203,800.5 205,800.5 L243.7,800.5 Q245.7,800.5 245.7,802 L245.7,814.7" stroke="#222" stroke-width="1.3" fill="none" stroke-linejoin="round" stroke-linecap="round" />
<line x1="200" y1="815" x2="248.7" y2="815" stroke="#151515" stroke-width="2.2" />
<path d="M626.3,814.7 L626.3,802 Q626.3,800.5 628.3,800.5 L667,800.5 Q669,800.5 669,802 L669,814.7" stroke="#222" stroke-width="1.3" fill="none" stroke-linejoin="round" stroke-linecap="round" />
<line x1="623.3" y1="815" x2="672" y2="815" stroke="#151515" stroke-width="2.2" />
<line x1="191.6" y1="816.2" x2="678" y2="816.2" stroke="#222" stroke-width="1.8" />
<line x1="193.6" y1="816" x2="193.6" y2="1103" stroke="#222" stroke-width="2.6" />
<line x1="678" y1="816" x2="678" y2="1103" stroke="#3a3a3a" stroke-width="4.2" />
<path d="M199,850.2 L354,850.2" stroke="#151515" stroke-width="2.2" fill="none" stroke-linejoin="round" stroke-linecap="round" />
<path d="M362,850.5 L362,846.8 L509,846.8 L509,850.5" stroke="#151515" stroke-width="2.2" fill="none" stroke-linejoin="round" stroke-linecap="round" />
<path d="M517,850.2 L672,850.2" stroke="#151515" stroke-width="2.2" fill="none" stroke-linejoin="round" stroke-linecap="round" />
<line x1="371.6" y1="851.8" x2="498" y2="851.8" stroke="#999" stroke-width="1.4" />
<line x1="166" y1="1104.7" x2="704.7" y2="1104.7" stroke="#151515" stroke-width="2.0" />
<line x1="166" y1="1123.4" x2="192" y2="1123.4" stroke="#333" stroke-width="1.4" />
<line x1="192" y1="1123.8" x2="676" y2="1123.8" stroke="#151515" stroke-width="2.8" />
<line x1="676" y1="1123.4" x2="704.7" y2="1123.4" stroke="#333" stroke-width="1.4" />
<line x1="166.5" y1="1104.7" x2="166.5" y2="1123.3" stroke="#333" stroke-width="1.2" />
<line x1="704.5" y1="1104.7" x2="704.5" y2="1123.3" stroke="#333" stroke-width="1.4" />
<rect x="180.4" y="1085.3" width="10.90" height="18.70" rx="0" stroke="#888" stroke-width="1.0" fill="none" />
<path d="M192.7,1125.3 L192.7,1138 L175.3,1138" stroke="#333" stroke-width="1.6" fill="none" stroke-linejoin="round" stroke-linecap="round" />
<rect x="426.3" y="1125.3" width="18.70" height="9.70" rx="2" stroke="#151515" stroke-width="1.4" fill="#fff" />
<path d="M432,1133 L435.5,1128 L439,1133" stroke="#151515" stroke-width="1.0" fill="none" stroke-linejoin="round" stroke-linecap="round" />
<rect x="434" y="1014.0" width="3.2" height="5" fill="#151515"/>
<rect x="434" y="1050.5" width="3.2" height="5" fill="#151515"/>
<rect x="434" y="1086.5" width="3.2" height="5" fill="#151515"/>
<ellipse cx="435.5" cy="942" rx="50.4" ry="52.7" stroke="#151515" stroke-width="8.6" fill="none"/>
<ellipse cx="435.5" cy="942" rx="44.2" ry="46.2" stroke="#151515" stroke-width="1.8" fill="none"/>
<ellipse cx="435.5" cy="942" rx="46.8" ry="48.8" stroke="#555" stroke-width="0.8" fill="none" stroke-dasharray="3 2"/>
<circle cx="435" cy="902.5" r="2" fill="#151515"/>
<circle cx="411.7" cy="912.3" r="2" fill="#151515"/>
<circle cx="460" cy="912.3" r="2" fill="#151515"/>
<circle cx="397.6" cy="943" r="2" fill="#151515"/>
<circle cx="473.5" cy="943" r="2" fill="#151515"/>
<circle cx="420" cy="950.2" r="2" fill="#151515"/>
<circle cx="450.7" cy="950.2" r="2" fill="#151515"/>
<rect x="418.7" y="931.5" width="2.6" height="6.5" rx="1.2" fill="#151515"/>
<rect x="449.4" y="931.5" width="2.6" height="6.5" rx="1.2" fill="#151515"/>
<g transform="translate(401.8,921.5) rotate(-42)"><path d="M-8.5,-5 L8.5,-5 L8.5,2 Q0,6.5 -8.5,2 Z" stroke="#151515" stroke-width="1.6" fill="#2a2a2a" stroke-linejoin="round"/><path d="M-5.5,-2.5 L-3,1.5 L-0.5,-2.5 L2,1.5 L4.5,-2.5" stroke="#fff" stroke-width="1.1" fill="none"/></g>
<g transform="translate(469.2,921.5) rotate(42)"><path d="M-8.5,-5 L8.5,-5 L8.5,2 Q0,6.5 -8.5,2 Z" stroke="#151515" stroke-width="1.6" fill="#2a2a2a" stroke-linejoin="round"/><path d="M-5.5,-2.5 L-3,1.5 L-0.5,-2.5 L2,1.5 L4.5,-2.5" stroke="#fff" stroke-width="1.1" fill="none"/></g>
<path d="M416.5,992 Q418,981.5 427,979.5 L444,979.5 Q453,981.5 454.5,992 Q435.5,997 416.5,992 Z" fill="#2a2a2a" stroke="#151515" stroke-width="1.2"/>
<path d="M431.5,993 L431.5,984.5 Q435.5,979.5 439.5,984.5 L439.5,993" stroke="#fff" stroke-width="1.6" fill="none"/>
<path d="M422,987 Q425,983 428,985 M443,985 Q446,983 449,987" stroke="#fff" stroke-width="1.0" fill="none"/>
<rect x="483.5" y="934.5" width="4.80" height="15.70" rx="0" stroke="#151515" stroke-width="0.8" fill="#fff" />
<path d="M272.81,1008.65 Q281.79,1012.49 291.04,1010.53 C296.51,1004.00 305.07,1012.47 299.19,1018.60 Q297.89,1028.41 302.08,1037.60 Z" stroke="#151515" stroke-width="1.5" fill="#fff" stroke-linejoin="round"/>
<circle cx="295.8" cy="1013.8" r="1.5" fill="#151515"/>
<path d="M261.00,1082.41 Q252.10,1078.36 243.49,1079.38 C237.88,1085.78 229.50,1077.11 235.51,1071.12 Q236.35,1062.06 232.36,1052.77 Z" stroke="#151515" stroke-width="1.5" fill="#fff" stroke-linejoin="round"/>
<circle cx="238.8" cy="1076" r="1.5" fill="#151515"/>
<ellipse cx="267.3" cy="1045.6" rx="35.6" ry="37.4" stroke="#151515" stroke-width="1.5" fill="#fff"/>
<ellipse cx="267.3" cy="1045.6" rx="32.6" ry="34.3" stroke="#151515" stroke-width="2.3" fill="none"/>
<line x1="262.3" y1="1007.9999999999999" x2="272.3" y2="1007.9999999999999" stroke="#999" stroke-width="1.6" />
<line x1="262.3" y1="1083.1999999999998" x2="272.3" y2="1083.1999999999998" stroke="#999" stroke-width="1.6" />
<path d="M352.15,1008.69 Q361.11,1012.59 370.56,1010.50 C376.07,1004.00 384.58,1012.53 378.66,1018.62 Q377.10,1028.64 381.23,1037.86 Z" stroke="#151515" stroke-width="1.5" fill="#fff" stroke-linejoin="round"/>
<circle cx="375.3" cy="1013.8" r="1.5" fill="#151515"/>
<path d="M339.92,1082.38 Q331.04,1078.28 322.27,1079.41 C316.63,1085.78 308.30,1077.06 314.34,1071.11 Q315.37,1061.89 311.43,1052.58 Z" stroke="#151515" stroke-width="1.5" fill="#fff" stroke-linejoin="round"/>
<circle cx="317.6" cy="1076" r="1.5" fill="#151515"/>
<ellipse cx="346.4" cy="1045.6" rx="35.6" ry="37.4" stroke="#151515" stroke-width="1.5" fill="#fff"/>
<ellipse cx="346.4" cy="1045.6" rx="32.6" ry="34.3" stroke="#151515" stroke-width="2.3" fill="none"/>
<line x1="341.4" y1="1007.9999999999999" x2="351.4" y2="1007.9999999999999" stroke="#999" stroke-width="1.6" />
<line x1="341.4" y1="1083.1999999999998" x2="351.4" y2="1083.1999999999998" stroke="#999" stroke-width="1.6" />
<path d="M489.79,1037.78 Q493.93,1028.57 492.63,1018.82 C486.72,1012.71 495.24,1004.20 500.75,1010.71 Q509.95,1012.56 518.92,1008.68 Z" stroke="#151515" stroke-width="1.5" fill="#fff" stroke-linejoin="round"/>
<circle cx="496" cy="1014" r="1.5" fill="#151515"/>
<path d="M559.74,1051.59 Q556.04,1061.00 557.74,1070.61 C563.93,1076.40 555.82,1085.35 550.01,1079.14 Q540.79,1077.83 532.02,1082.18 Z" stroke="#151515" stroke-width="1.5" fill="#fff" stroke-linejoin="round"/>
<circle cx="554.6" cy="1075.6" r="1.5" fill="#151515"/>
<ellipse cx="524.6" cy="1045.6" rx="35.6" ry="37.4" stroke="#151515" stroke-width="1.5" fill="#fff"/>
<ellipse cx="524.6" cy="1045.6" rx="32.6" ry="34.3" stroke="#151515" stroke-width="2.3" fill="none"/>
<line x1="519.6" y1="1007.9999999999999" x2="529.6" y2="1007.9999999999999" stroke="#999" stroke-width="1.6" />
<line x1="519.6" y1="1083.1999999999998" x2="529.6" y2="1083.1999999999998" stroke="#999" stroke-width="1.6" />
<path d="M568.81,1038.16 Q572.86,1028.90 571.18,1018.85 C565.21,1012.82 573.65,1004.21 579.21,1010.66 Q588.73,1012.72 597.66,1008.74 Z" stroke="#151515" stroke-width="1.5" fill="#fff" stroke-linejoin="round"/>
<circle cx="574.5" cy="1014" r="1.5" fill="#151515"/>
<path d="M638.56,1053.17 Q634.48,1062.42 635.84,1072.16 C641.79,1078.22 633.32,1086.79 627.77,1080.33 Q618.55,1078.53 609.61,1082.48 Z" stroke="#151515" stroke-width="1.5" fill="#fff" stroke-linejoin="round"/>
<circle cx="632.5" cy="1077" r="1.5" fill="#151515"/>
<ellipse cx="603.7" cy="1045.6" rx="35.6" ry="37.4" stroke="#151515" stroke-width="1.5" fill="#fff"/>
<ellipse cx="603.7" cy="1045.6" rx="32.6" ry="34.3" stroke="#151515" stroke-width="2.3" fill="none"/>
<line x1="598.7" y1="1007.9999999999999" x2="608.7" y2="1007.9999999999999" stroke="#999" stroke-width="1.6" />
<line x1="598.7" y1="1083.1999999999998" x2="608.7" y2="1083.1999999999998" stroke="#999" stroke-width="1.6" />
</g>
</svg>
</body></html>
